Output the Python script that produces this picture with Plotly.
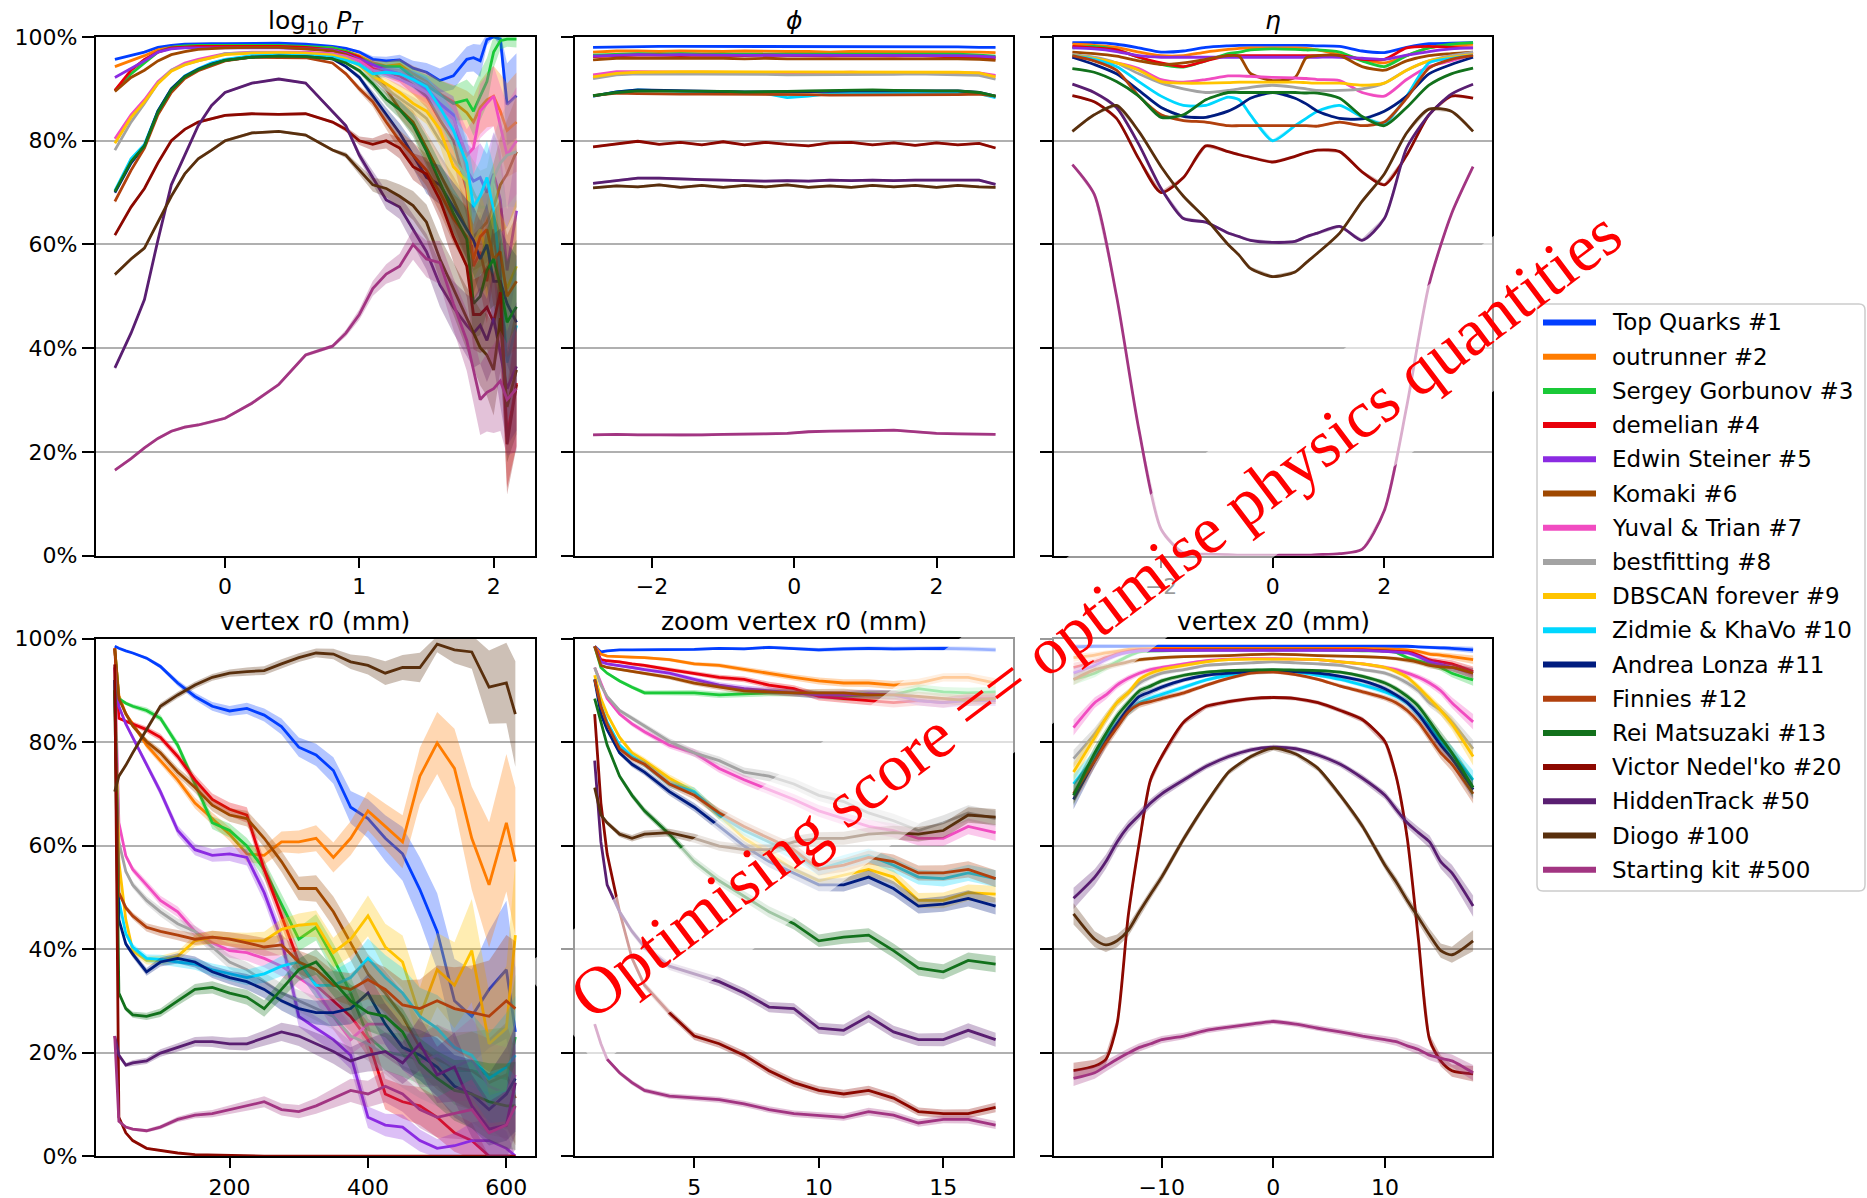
import numpy as np
import plotly.graph_objects as go

W, H = 1867, 1198

teams = ["Top Quarks #1", "outrunner #2", "Sergey Gorbunov #3", "demelian #4",
         "Edwin Steiner #5", "Komaki #6", "Yuval & Trian #7", "bestfitting #8",
         "DBSCAN forever #9", "Zidmie & KhaVo #10", "Andrea Lonza #11", "Finnies #12",
         "Rei Matsuzaki #13", "Victor Nedel'ko #20", "HiddenTrack #50", "Diogo #100",
         "Starting kit #500"]
colors = ["#023EFF", "#FF7C00", "#1AC938", "#E8000B", "#8B2BE2", "#9F4800", "#F14CC1",
          "#A3A3A3", "#FFC400", "#00D7FF", "#001C7F", "#B1400D", "#12711C", "#8C0800",
          "#591E71", "#592F0D", "#A23582"]

# ---------------- efficiency vs log10 pT (%) ----------------
pt_x = [-0.82, -0.7, -0.6, -0.5, -0.4, -0.3, -0.2, -0.1, 0.0, 0.2,
        0.4, 0.6, 0.8, 0.9, 1.0, 1.1, 1.2, 1.3, 1.4, 1.5,
        1.6, 1.7, 1.8, 1.85, 1.9, 1.95, 2.0, 2.05, 2.1, 2.17]
pt_n = [20000, 20000, 20000, 20000, 20000, 20000, 20000, 20000, 20000, 20000,
        20000, 20000, 20000, 6000, 2500, 1200, 700, 420, 280, 200,
        140, 100, 70, 55, 45, 38, 30, 24, 18, 15]
pt_r1 = [95.7, 96.4, 97.1, 98.0, 98.4, 98.6, 98.7, 98.7, 98.7, 98.8, 98.8, 98.6, 98.2, 97.8, 97.1, 95.7, 95.4, 95.6, 94.0, 93.2, 91.6, 92.5, 95.7, 96.0, 95.4, 99.5, 100.0, 99.6, 87.0, 88.7]
pt_r2 = [94.3, 95.4, 96.4, 97.5, 98.0, 98.2, 98.2, 98.2, 98.2, 98.2, 98.2, 98.0, 97.9, 97.3, 96.4, 95.0, 94.4, 94.7, 92.9, 91.4, 89.0, 87.5, 85.4, 83.6, 86.4, 87.9, 88.6, 85.7, 82.0, 83.6]
pt_r3 = [89.7, 92.9, 95.0, 97.1, 98.0, 98.3, 98.4, 98.4, 98.4, 98.4, 98.4, 98.2, 97.9, 97.3, 96.1, 94.7, 94.3, 94.3, 92.2, 90.7, 89.0, 87.2, 87.9, 85.7, 88.6, 91.4, 97.1, 99.3, 99.6, 99.6]
pt_r4 = [89.7, 93.6, 95.7, 97.1, 97.9, 98.1, 98.2, 98.2, 98.2, 98.2, 98.2, 98.0, 97.5, 97.0, 96.1, 93.9, 93.2, 92.5, 90.7, 88.6, 84.0, 80.0, 70.5, 55.8, 58.6, 52.9, 62.9, 50.8, 23.0, 33.3]
pt_r5 = [92.2, 93.9, 95.4, 97.1, 97.7, 97.9, 97.9, 97.9, 97.9, 97.9, 97.9, 97.7, 97.5, 96.8, 95.7, 94.7, 93.6, 92.9, 91.8, 90.0, 87.2, 85.0, 74.3, 72.2, 72.9, 70.0, 73.6, 68.6, 55.0, 66.5]
pt_r6 = [89.5, 92.2, 93.6, 95.4, 96.6, 97.2, 97.6, 97.8, 97.9, 98.0, 98.0, 97.7, 97.3, 96.6, 95.4, 93.6, 90.0, 86.1, 83.6, 78.6, 73.6, 68.6, 62.9, 61.5, 62.9, 64.3, 67.2, 71.5, 73.6, 77.9]
pt_r7 = [80.4, 85.0, 87.9, 91.4, 93.6, 95.0, 95.7, 96.3, 96.8, 97.1, 97.1, 97.1, 96.8, 96.3, 95.4, 93.6, 92.9, 91.8, 90.7, 89.3, 86.4, 84.3, 77.2, 78.6, 85.7, 87.2, 88.6, 82.9, 77.2, 80.0]
pt_r8 = [78.2, 83.6, 87.2, 91.1, 93.6, 94.7, 95.4, 96.0, 96.8, 97.0, 97.0, 96.9, 96.6, 96.0, 94.7, 92.2, 90.0, 88.2, 86.4, 84.3, 80.0, 76.5, 72.9, 70.0, 67.2, 67.2, 72.9, 75.7, 77.2, 77.9]
pt_r9 = [79.5, 84.5, 87.5, 91.0, 93.4, 94.6, 95.4, 96.0, 96.6, 96.9, 97.0, 96.9, 96.5, 95.8, 94.5, 92.5, 91.0, 89.3, 87.2, 85.7, 82.2, 75.0, 72.2, 60.0, 62.9, 57.9, 67.2, 55.8, 51.5, 55.8]
pt_r10 = [70.4, 76.5, 79.3, 85.7, 90.0, 92.5, 93.9, 95.0, 95.7, 96.4, 96.5, 96.4, 96.1, 95.5, 94.7, 92.9, 93.2, 92.9, 91.8, 90.4, 86.4, 82.0, 75.7, 67.2, 69.3, 72.9, 66.5, 54.4, 37.2, 44.4]
pt_r11 = [70.0, 75.7, 79.0, 85.7, 90.0, 92.4, 93.8, 94.8, 95.5, 96.1, 96.3, 96.2, 95.8, 94.3, 92.2, 88.6, 85.0, 81.5, 77.2, 72.9, 71.5, 67.2, 62.9, 60.8, 57.2, 60.0, 52.9, 52.9, 48.6, 45.0]
pt_r12 = [68.3, 74.3, 78.6, 85.0, 89.3, 92.0, 93.5, 94.5, 95.4, 96.1, 96.1, 96.0, 95.0, 92.9, 90.0, 87.5, 83.6, 80.0, 77.2, 74.3, 70.0, 65.0, 61.5, 57.2, 61.5, 62.9, 57.2, 58.6, 50.0, 52.9]
pt_r13 = [70.2, 76.0, 79.0, 85.5, 89.8, 92.3, 93.7, 94.7, 95.5, 96.1, 96.3, 96.2, 95.8, 95.0, 93.5, 91.0, 88.0, 86.0, 83.0, 78.0, 72.0, 66.0, 61.0, 48.6, 50.0, 55.0, 57.2, 52.0, 45.0, 48.0]
pt_r20 = [61.8, 67.2, 70.8, 75.7, 80.0, 82.2, 83.6, 84.3, 84.9, 85.2, 85.1, 85.2, 83.6, 82.2, 80.0, 79.3, 80.0, 78.6, 75.0, 73.6, 68.6, 61.5, 55.8, 46.5, 46.5, 47.9, 45.0, 50.8, 21.5, 33.0]
pt_r50 = [36.2, 42.9, 49.4, 60.8, 71.5, 77.2, 82.9, 86.8, 89.3, 91.1, 91.9, 91.1, 85.7, 82.9, 77.2, 72.9, 68.6, 67.2, 62.9, 58.6, 52.2, 47.9, 44.4, 42.9, 44.4, 41.5, 45.8, 38.7, 32.2, 36.5]
pt_r100 = [54.2, 57.2, 59.3, 64.3, 69.3, 73.6, 76.5, 78.2, 80.0, 81.5, 81.8, 81.1, 78.2, 77.2, 74.3, 71.5, 70.8, 69.3, 67.5, 64.3, 57.2, 51.5, 45.8, 42.9, 40.1, 38.7, 35.8, 45.8, 28.7, 35.8]
pt_r500 = [16.5, 18.7, 20.8, 22.6, 24.0, 24.8, 25.2, 25.8, 26.5, 29.4, 33.0, 38.7, 40.4, 42.9, 46.5, 51.5, 54.3, 55.8, 60.0, 57.2, 56.5, 48.6, 41.5, 35.8, 30.1, 31.5, 32.2, 33.7, 30.1, 32.2]

# ---------------- efficiency vs phi (%) ----------------
phi_x = [-2.83, -2.5, -2.2, -1.9, -1.6, -1.3, -1.0, -0.7, -0.4, -0.1,
         0.2, 0.5, 0.8, 1.1, 1.4, 1.7, 2.0, 2.3, 2.6, 2.83]
phi_n = [30000] * 20
phi_r1 = [98.0, 98.1, 98.1, 98.2, 98.2, 98.2, 98.1, 98.2, 98.1, 98.2, 98.1, 98.2, 98.1, 98.1, 98.2, 98.1, 98.1, 98.1, 98.0, 98.0]
phi_r2 = [97.1, 97.3, 97.3, 97.2, 97.3, 97.2, 97.2, 97.3, 97.2, 97.2, 97.2, 97.1, 97.2, 97.2, 97.1, 97.2, 97.2, 97.1, 97.1, 97.0]
phi_r3 = [96.5, 96.7, 96.8, 96.7, 96.8, 96.7, 96.7, 96.6, 96.7, 96.6, 96.6, 96.7, 96.7, 96.6, 96.7, 96.6, 96.6, 96.7, 96.5, 96.3]
phi_r4 = [96.2, 96.4, 96.5, 96.5, 96.4, 96.5, 96.4, 96.4, 96.5, 96.4, 96.4, 96.3, 96.4, 96.3, 96.3, 96.4, 96.3, 96.2, 96.1, 95.9]
phi_r5 = [96.3, 96.5, 96.6, 96.5, 96.6, 96.5, 96.5, 96.4, 96.5, 96.5, 96.4, 96.5, 96.4, 96.5, 96.4, 96.5, 96.4, 96.4, 96.3, 96.1]
phi_r6 = [95.6, 95.9, 95.9, 95.9, 96.0, 95.9, 95.9, 95.8, 95.9, 95.8, 95.8, 95.8, 95.9, 95.8, 95.8, 95.8, 95.9, 95.8, 95.7, 95.5]
phi_r7 = [92.7, 93.3, 93.3, 93.2, 93.2, 93.2, 93.2, 93.1, 93.2, 93.1, 93.0, 93.1, 93.2, 93.1, 93.1, 93.1, 93.2, 93.1, 93.1, 92.6]
phi_r8 = [92.0, 92.7, 92.9, 92.9, 92.9, 92.8, 92.9, 92.8, 92.8, 92.7, 92.7, 92.8, 92.8, 92.8, 92.8, 92.9, 92.8, 92.8, 92.6, 91.9]
phi_r9 = [92.3, 93.0, 93.2, 93.3, 93.3, 93.3, 93.3, 93.2, 93.3, 93.2, 93.2, 93.2, 93.3, 93.3, 93.2, 93.2, 93.3, 93.2, 93.1, 92.3]
phi_r10 = [88.6, 89.4, 89.8, 89.6, 89.5, 89.5, 89.4, 89.3, 89.1, 88.3, 88.6, 89.1, 89.2, 89.3, 89.2, 89.2, 89.3, 89.3, 89.1, 88.3]
phi_r11 = [88.6, 89.4, 89.8, 89.7, 89.6, 89.6, 89.5, 89.4, 89.4, 89.4, 89.4, 89.5, 89.6, 89.6, 89.5, 89.6, 89.6, 89.6, 89.3, 88.6]
phi_r12 = [88.7, 89.2, 89.1, 89.0, 89.0, 89.0, 89.0, 89.0, 88.9, 88.9, 88.9, 88.8, 88.8, 88.9, 88.9, 88.9, 88.9, 88.9, 89.0, 88.6]
phi_r13 = [88.7, 89.3, 89.6, 89.6, 89.5, 89.5, 89.5, 89.4, 89.4, 89.5, 89.6, 89.7, 89.8, 89.8, 89.7, 89.6, 89.6, 89.6, 89.3, 88.6]
phi_r20 = [78.8, 79.4, 79.9, 79.3, 79.7, 79.2, 79.8, 79.2, 79.7, 79.3, 79.0, 79.6, 79.7, 79.2, 79.6, 79.1, 79.6, 79.2, 79.5, 78.6]
phi_r50 = [71.8, 72.4, 72.8, 72.8, 72.6, 72.5, 72.4, 72.3, 72.2, 72.3, 72.2, 72.4, 72.3, 72.4, 72.3, 72.4, 72.4, 72.5, 72.4, 71.6]
phi_r100 = [70.9, 71.3, 71.1, 71.5, 71.0, 71.4, 71.0, 71.4, 71.1, 71.5, 71.0, 71.3, 71.0, 71.4, 71.1, 71.4, 71.0, 71.4, 71.1, 71.0]
phi_r500 = [23.3, 23.4, 23.3, 23.3, 23.2, 23.3, 23.4, 23.4, 23.5, 23.6, 23.9, 24.0, 24.0, 24.1, 24.2, 23.9, 23.6, 23.5, 23.5, 23.4]

# ---------------- efficiency vs eta (%) ----------------
eta_x = [-3.59, -3.2, -2.8, -2.4, -2.0, -1.6, -1.2, -0.8, -0.6, -0.4, 0.0,
         0.4, 0.6, 0.8, 1.2, 1.6, 2.0, 2.4, 2.8, 3.2, 3.59]
eta_n = [30000] * 21
eta_r1 = [98.9, 98.9, 98.6, 97.9, 97.1, 97.3, 98.0, 98.3, 98.4, 98.4, 98.4, 98.4, 98.4, 98.3, 98.2, 97.3, 97.0, 98.0, 98.7, 98.8, 98.9]
eta_r2 = [98.6, 98.4, 98.0, 97.1, 96.4, 96.4, 97.1, 97.6, 97.8, 97.9, 97.9, 97.9, 97.8, 97.5, 96.6, 95.7, 95.0, 96.4, 97.9, 98.4, 98.6]
eta_r3 = [97.9, 98.2, 97.5, 96.1, 94.7, 94.2, 95.4, 96.8, 97.1, 97.5, 97.7, 97.6, 97.5, 97.5, 97.1, 95.4, 94.3, 96.4, 97.9, 98.6, 98.9]
eta_r4 = [98.2, 97.9, 97.5, 96.1, 95.0, 94.3, 95.4, 96.4, 96.4, 96.4, 96.4, 96.4, 96.4, 96.4, 96.4, 95.7, 95.7, 97.9, 98.2, 98.0, 97.9]
eta_r5 = [97.9, 97.7, 97.2, 96.4, 96.1, 96.1, 96.1, 96.1, 96.1, 96.1, 96.1, 96.1, 96.1, 96.1, 96.1, 95.9, 95.7, 96.5, 97.2, 97.7, 97.9]
eta_r6 = [97.1, 96.8, 96.3, 95.4, 94.7, 95.0, 95.7, 96.4, 96.3, 93.0, 91.6, 92.2, 96.0, 96.4, 96.4, 94.3, 93.6, 95.4, 96.4, 96.8, 97.1]
eta_r7 = [96.1, 95.7, 95.0, 93.9, 91.8, 91.3, 91.8, 92.5, 92.5, 92.4, 92.2, 92.1, 92.0, 91.8, 91.6, 89.3, 88.6, 91.8, 94.3, 95.4, 96.6]
eta_r8 = [96.6, 96.1, 95.0, 92.9, 91.1, 90.0, 89.3, 89.7, 90.0, 90.3, 90.7, 90.3, 90.0, 89.7, 89.7, 90.0, 91.1, 93.6, 95.4, 96.4, 97.1]
eta_r9 = [96.4, 95.9, 95.0, 93.6, 91.4, 91.1, 91.1, 91.2, 91.3, 91.3, 91.3, 91.3, 91.2, 91.1, 91.1, 90.7, 91.1, 93.6, 95.4, 96.1, 96.6]
eta_r10 = [96.4, 95.7, 94.3, 91.4, 88.6, 86.8, 86.8, 88.4, 87.9, 85.0, 80.0, 82.9, 84.3, 85.7, 86.8, 84.6, 83.3, 88.6, 95.0, 95.9, 96.4]
eta_r11 = [96.1, 94.7, 92.9, 89.7, 86.4, 84.7, 84.5, 85.7, 86.8, 88.2, 89.3, 88.2, 87.1, 85.7, 84.3, 84.2, 85.7, 88.6, 92.9, 94.7, 96.1]
eta_r12 = [96.4, 95.4, 93.6, 88.6, 85.0, 83.9, 83.6, 82.9, 82.9, 82.9, 82.9, 82.9, 82.9, 82.8, 83.6, 82.9, 83.6, 88.2, 94.0, 95.7, 96.4]
eta_r13 = [93.9, 93.2, 91.4, 88.6, 84.5, 85.0, 87.9, 89.3, 89.3, 89.3, 89.3, 89.3, 89.2, 89.2, 88.2, 84.7, 82.9, 86.4, 90.7, 92.9, 94.0]
eta_r20 = [88.7, 87.5, 84.3, 76.5, 70.0, 72.9, 79.0, 77.9, 77.3, 76.8, 75.9, 77.0, 77.7, 78.2, 77.9, 74.0, 71.5, 77.2, 85.0, 88.6, 88.2]
eta_r50 = [90.9, 89.3, 86.4, 79.3, 70.8, 65.0, 64.3, 62.2, 61.5, 60.8, 60.4, 60.6, 61.5, 62.2, 63.5, 60.8, 65.0, 78.6, 85.0, 89.0, 90.9]
eta_r100 = [81.8, 85.0, 86.8, 81.8, 75.0, 69.3, 65.0, 60.0, 57.9, 55.4, 53.8, 54.7, 56.5, 58.3, 62.2, 68.3, 73.6, 81.5, 86.1, 85.7, 81.8]
eta_r500 = [75.4, 69.7, 50.1, 24.4, 5.1, 0.5, 0.3, 0.2, 0.1, 0.1, 0.1, 0.1, 0.1, 0.2, 0.4, 1.2, 8.7, 28.7, 52.2, 65.8, 75.0]

# ---------------- efficiency vs vertex r0 (%) ----------------
r0_x = [34, 40, 50, 60, 80, 100, 125, 150, 175, 200, 225, 250, 275, 300,
        325, 350, 375, 400, 425, 450, 475, 500, 525, 550, 575, 600, 613]
r0_n = [50000, 20000, 10000, 6000, 4000, 3000, 2500, 2000, 1600, 1300, 1000, 800, 600, 480,
        380, 290, 220, 160, 120, 90, 65, 45, 32, 24, 17, 13, 12]
r0_r1 = [98.5, 98.1, 97.6, 97.2, 96.2, 94.6, 91.4, 88.8, 86.9, 86.0, 86.5, 85.2, 83.0, 79.0, 77.5, 74.5, 67.4, 65.2, 61.4, 58.4, 51.5, 43.4, 30.0, 27.0, 32.2, 36.0, 24.0]
r0_r2 = [98.1, 89.0, 85.4, 83.5, 79.4, 76.4, 72.7, 68.2, 65.2, 62.2, 58.4, 58.1, 60.7, 60.7, 61.4, 57.7, 61.4, 66.7, 63.7, 60.7, 73.4, 79.8, 74.9, 61.4, 52.4, 64.4, 56.9]
r0_r3 = [98.0, 88.4, 87.5, 86.9, 86.1, 84.6, 79.4, 71.9, 64.4, 62.9, 59.9, 55.4, 48.7, 41.9, 44.2, 38.2, 31.5, 23.2, 20.2, 19.5, 18.7, 19.5, 16.5, 16.5, 15.7, 15.0, 23.0]
r0_r4 = [98.1, 84.6, 84.0, 83.5, 82.4, 80.9, 77.2, 72.7, 68.9, 67.0, 65.9, 55.4, 46.4, 37.5, 33.0, 30.0, 27.0, 22.5, 12.0, 10.5, 9.7, 7.5, 4.5, 3.0, 0.0, 0.0, 0.0]
r0_r5 = [94.4, 86.9, 83.5, 80.9, 75.7, 70.4, 62.9, 59.2, 58.1, 58.4, 57.7, 50.9, 41.9, 27.0, 24.7, 22.5, 19.5, 7.5, 6.0, 5.6, 3.0, 1.5, 2.0, 3.0, 3.0, 1.5, 0.0]
r0_r6 = [98.1, 88.4, 85.5, 83.1, 80.1, 77.9, 74.2, 71.2, 67.8, 65.9, 65.2, 61.4, 56.9, 51.7, 51.7, 47.2, 41.2, 35.2, 31.5, 27.0, 21.0, 18.7, 17.2, 16.5, 14.2, 15.7, 11.2]
r0_r7 = [94.4, 64.4, 58.0, 55.4, 52.4, 49.4, 47.2, 43.4, 41.2, 39.7, 39.3, 38.2, 36.7, 34.5, 32.2, 27.0, 22.5, 25.5, 25.5, 21.0, 18.0, 19.5, 17.2, 18.7, 13.5, 12.0, 15.7]
r0_r8 = [90.0, 60.7, 55.0, 52.4, 49.4, 47.2, 44.9, 43.4, 40.4, 37.5, 36.0, 33.7, 31.5, 30.0, 28.5, 27.0, 23.2, 21.7, 19.5, 17.2, 15.7, 15.0, 14.2, 13.5, 12.0, 12.7, 12.0]
r0_r9 = [92.0, 56.9, 45.7, 39.7, 37.8, 37.8, 38.6, 41.6, 42.3, 41.9, 41.6, 41.6, 43.8, 44.6, 44.9, 39.3, 41.9, 46.4, 40.4, 37.5, 27.0, 36.0, 33.0, 39.7, 21.7, 24.7, 42.7]
r0_r10 = [92.0, 49.4, 43.0, 40.4, 38.2, 38.0, 37.5, 37.1, 36.0, 35.2, 34.5, 35.2, 36.7, 37.5, 33.0, 33.0, 34.5, 38.2, 34.5, 31.5, 27.0, 24.7, 21.0, 19.5, 15.0, 17.2, 19.5]
r0_r11 = [92.0, 45.7, 41.0, 39.0, 35.6, 37.5, 38.2, 37.5, 35.6, 34.5, 33.7, 32.2, 30.0, 28.5, 27.7, 27.7, 28.5, 31.5, 25.5, 21.0, 19.5, 17.2, 13.5, 12.0, 9.0, 12.0, 15.0]
r0_r12 = [90.0, 50.9, 48.0, 46.4, 44.2, 43.4, 42.7, 41.9, 42.3, 41.9, 41.2, 40.4, 40.8, 37.5, 36.0, 33.0, 32.2, 34.1, 32.2, 29.2, 28.5, 30.0, 28.5, 27.7, 27.0, 30.0, 28.5]
r0_r13 = [90.0, 31.5, 28.5, 27.3, 27.0, 27.7, 30.0, 32.2, 32.6, 31.5, 30.7, 28.5, 32.2, 36.0, 37.5, 33.7, 30.0, 27.7, 27.0, 24.0, 18.0, 15.0, 12.7, 12.0, 10.5, 9.7, 9.7]
r0_r20 = [95.0, 7.5, 4.5, 3.0, 1.5, 1.1, 0.6, 0.3, 0.2, 0.1, 0.1, 0.0, 0.0, 0.0, 0.0, 0.0, 0.0, 0.0, 0.0, 0.0, 0.0, 0.0, 0.0, 0.0, 0.0, 0.0, 0.0]
r0_r50 = [23.2, 19.5, 17.6, 18.0, 18.4, 19.9, 21.0, 22.1, 22.1, 21.7, 21.7, 22.8, 24.0, 23.2, 21.7, 20.2, 18.4, 19.5, 20.2, 18.0, 21.7, 15.7, 17.2, 9.7, 5.2, 6.0, 14.2]
r0_r100 = [70.4, 73.4, 75.5, 77.9, 82.4, 86.9, 89.1, 91.0, 92.5, 93.3, 93.6, 93.8, 95.1, 96.3, 97.2, 97.0, 95.5, 94.8, 93.3, 94.4, 94.4, 98.9, 97.8, 97.4, 90.6, 91.4, 85.4]
r0_r500 = [23.2, 6.7, 5.6, 5.2, 4.9, 5.6, 7.1, 7.9, 8.2, 9.0, 9.7, 10.5, 9.0, 8.6, 9.7, 11.2, 12.7, 12.0, 13.5, 12.0, 9.0, 7.5, 8.2, 9.0, 4.5, 6.0, 9.7]

# ---------------- efficiency vs vertex r0, zoomed (%) ----------------
zr_x = [1.0, 1.25, 1.5, 2.0, 2.5, 3.0, 4.0, 5.0, 6.0, 7.0,
        8.0, 9.0, 10.0, 11.0, 12.0, 13.0, 14.0, 15.0, 16.0, 17.1]
zr_n = [40000, 20000, 12000, 8000, 6000, 5000, 4000, 3200, 2800, 2400,
        2100, 1900, 1700, 1500, 1400, 1300, 1200, 1100, 1000, 950]
zr_r1 = [98.5, 97.4, 97.6, 97.8, 97.8, 97.8, 97.8, 97.9, 98.1, 98.0, 98.3, 98.1, 97.8, 98.0, 98.1, 98.0, 98.1, 98.1, 98.0, 97.8]
zr_r2 = [98.5, 97.0, 96.6, 96.5, 96.3, 96.3, 95.9, 95.1, 94.8, 94.0, 93.3, 92.5, 91.8, 91.4, 91.4, 91.0, 91.4, 92.5, 92.5, 91.4]
zr_r3 = [98.5, 94.4, 93.3, 91.8, 90.6, 89.5, 89.5, 89.5, 89.1, 89.3, 89.5, 89.5, 89.1, 88.8, 89.1, 89.1, 90.3, 89.7, 89.5, 89.7]
zr_r4 = [98.5, 95.9, 95.7, 95.5, 95.1, 94.8, 94.0, 93.3, 92.5, 92.1, 91.0, 90.3, 88.8, 88.4, 88.0, 87.6, 88.0, 87.6, 88.4, 88.4]
zr_r5 = [98.5, 95.5, 95.1, 94.8, 94.4, 94.0, 93.3, 92.1, 91.0, 90.3, 89.9, 89.5, 89.1, 89.1, 89.3, 89.1, 88.0, 87.6, 88.0, 88.0]
zr_r6 = [98.5, 94.8, 94.4, 94.0, 93.6, 93.3, 92.5, 91.4, 90.6, 89.9, 89.7, 89.5, 89.5, 89.5, 89.1, 89.1, 88.8, 88.4, 88.0, 88.4]
zr_r7 = [94.4, 91.4, 88.4, 85.4, 83.5, 82.0, 79.4, 77.9, 74.9, 72.7, 70.8, 68.9, 66.7, 65.2, 63.7, 62.9, 61.4, 61.4, 63.7, 62.5]
zr_r8 = [94.4, 91.0, 88.8, 86.1, 84.6, 83.1, 80.1, 77.9, 76.4, 74.2, 73.4, 71.9, 69.7, 68.5, 66.3, 64.8, 62.9, 64.4, 66.3, 65.2]
zr_r9 = [92.9, 88.4, 85.4, 80.9, 77.9, 76.4, 73.0, 70.4, 65.9, 61.4, 58.4, 55.4, 53.2, 54.3, 55.4, 53.9, 49.4, 49.4, 50.9, 50.6]
zr_r10 = [92.1, 86.9, 83.9, 79.4, 77.2, 75.7, 71.9, 70.4, 65.9, 62.9, 60.7, 58.4, 55.4, 56.9, 58.1, 56.2, 53.9, 53.6, 54.7, 53.6]
zr_r11 = [92.1, 85.4, 82.4, 77.9, 75.7, 74.2, 70.4, 67.4, 63.7, 59.9, 56.9, 54.7, 52.4, 52.4, 53.9, 51.7, 48.3, 48.7, 49.8, 48.3]
zr_r12 = [92.1, 86.9, 83.5, 78.7, 76.8, 75.7, 71.9, 69.7, 66.3, 63.7, 61.4, 59.2, 55.4, 56.2, 57.7, 56.9, 54.7, 54.7, 55.4, 53.6]
zr_r13 = [88.4, 83.9, 79.4, 73.4, 69.7, 66.7, 62.2, 56.9, 53.2, 50.2, 47.2, 44.9, 41.6, 42.3, 42.7, 39.7, 36.3, 35.6, 37.8, 37.1]
zr_r20 = [85.4, 68.2, 58.4, 47.2, 38.2, 33.0, 27.7, 23.2, 21.7, 19.5, 16.5, 14.2, 12.7, 12.0, 12.7, 11.2, 8.6, 8.2, 8.2, 9.4]
zr_r50 = [76.4, 60.7, 52.4, 47.2, 43.4, 40.4, 36.7, 35.2, 33.7, 31.5, 28.8, 28.5, 24.7, 24.3, 27.0, 24.0, 22.5, 22.5, 24.3, 22.5]
zr_r100 = [71.2, 65.9, 64.4, 62.2, 61.4, 62.2, 62.5, 61.4, 59.9, 59.2, 59.2, 60.7, 61.4, 61.4, 62.2, 62.5, 62.2, 62.9, 65.9, 65.5]
zr_r500 = [25.5, 21.7, 18.7, 16.1, 14.2, 12.7, 11.6, 11.2, 10.9, 10.1, 9.0, 8.2, 7.9, 7.5, 8.6, 7.9, 6.4, 7.1, 7.1, 6.0]

# ---------------- efficiency vs vertex z0 (%) ----------------
z0_x = [-17.9, -16, -15, -14, -13, -12, -11, -10, -8, -6, -4, -2, 0,
        2, 4, 6, 8, 10, 11, 12, 13, 14, 15, 16, 17.9]
z0_n = [600, 1000, 1300, 1600, 2000, 2500, 3000, 3500, 4500, 5500, 6500, 7500, 8000,
        7500, 6500, 5500, 4500, 3500, 3000, 2500, 2000, 1600, 1300, 1000, 600]
z0_r1 = [98.4, 98.5, 98.5, 98.5, 98.5, 98.5, 98.5, 98.5, 98.5, 98.5, 98.5, 98.5, 98.5, 98.5, 98.5, 98.5, 98.5, 98.5, 98.5, 98.5, 98.4, 98.3, 98.2, 98.1, 97.8]
z0_r2 = [96.3, 96.8, 97.2, 97.5, 97.9, 98.0, 98.1, 98.1, 98.1, 98.1, 98.1, 98.1, 98.1, 98.1, 98.1, 98.1, 98.1, 98.0, 97.9, 97.8, 97.5, 97.0, 96.8, 96.5, 95.9]
z0_r3 = [92.1, 93.3, 94.4, 95.5, 96.6, 97.4, 97.6, 97.6, 97.7, 97.8, 97.8, 97.8, 97.8, 97.8, 97.8, 97.7, 97.6, 97.6, 97.3, 96.3, 95.7, 95.1, 94.4, 93.3, 92.0]
z0_r4 = [94.4, 95.5, 96.3, 97.0, 97.5, 97.8, 97.8, 97.8, 97.8, 97.8, 97.8, 97.8, 97.8, 97.8, 97.8, 97.8, 97.8, 97.6, 97.5, 97.4, 96.8, 95.9, 95.5, 95.1, 93.6]
z0_r5 = [93.3, 94.8, 95.9, 96.8, 97.3, 97.6, 97.7, 97.7, 97.7, 97.7, 97.7, 97.7, 97.7, 97.7, 97.7, 97.7, 97.7, 97.5, 97.4, 97.2, 96.5, 95.5, 95.0, 94.4, 93.3]
z0_r6 = [92.1, 94.0, 94.5, 95.0, 95.5, 95.9, 96.1, 96.3, 96.5, 96.6, 96.7, 96.9, 97.0, 96.9, 96.7, 96.6, 96.5, 96.3, 96.1, 95.8, 95.4, 94.8, 94.5, 94.4, 93.3]
z0_r7 = [82.8, 87.6, 89.1, 91.0, 92.3, 93.3, 94.0, 94.4, 95.1, 95.7, 96.0, 96.1, 96.1, 96.0, 95.9, 95.5, 95.1, 94.4, 94.0, 93.3, 92.5, 91.4, 89.9, 87.6, 83.9]
z0_r8 = [76.8, 81.6, 84.6, 87.6, 89.5, 91.4, 92.5, 93.3, 94.0, 94.8, 95.1, 95.3, 95.5, 95.3, 95.1, 94.8, 94.0, 93.3, 92.5, 91.4, 89.9, 87.6, 86.1, 83.9, 78.7]
z0_r9 = [74.2, 80.9, 84.6, 87.6, 89.5, 92.1, 93.3, 94.0, 94.8, 95.5, 95.9, 96.0, 96.0, 96.0, 95.9, 95.5, 95.1, 94.4, 93.6, 92.5, 90.6, 88.4, 86.1, 83.5, 77.2]
z0_r10 = [71.9, 77.2, 80.9, 83.5, 85.8, 87.6, 88.5, 89.2, 90.6, 92.0, 92.9, 93.4, 93.6, 93.5, 92.9, 92.1, 91.0, 89.7, 88.8, 87.6, 85.4, 83.1, 80.1, 77.9, 72.7]
z0_r11 = [68.9, 76.4, 80.1, 83.5, 86.5, 88.8, 89.7, 90.6, 92.0, 92.9, 93.3, 93.6, 93.8, 93.6, 93.3, 92.7, 91.8, 90.3, 89.1, 87.6, 85.4, 82.4, 79.4, 76.8, 70.8]
z0_r12 = [70.0, 76.4, 79.8, 82.8, 85.8, 87.3, 87.8, 88.4, 89.5, 91.0, 92.3, 93.3, 93.5, 93.0, 92.1, 90.8, 89.7, 88.5, 87.6, 86.1, 83.9, 80.9, 77.9, 75.7, 70.0]
z0_r13 = [69.7, 77.9, 81.6, 85.0, 87.6, 89.9, 90.8, 91.8, 92.9, 93.5, 93.8, 93.9, 94.0, 93.9, 93.8, 93.5, 92.7, 91.4, 90.3, 88.8, 86.9, 84.0, 80.9, 77.9, 71.2]
z0_r20 = [16.5, 17.4, 18.7, 25.5, 46.4, 60.7, 72.7, 77.2, 83.9, 86.9, 87.8, 88.4, 88.6, 88.4, 87.6, 86.1, 84.3, 80.1, 73.4, 61.4, 41.9, 22.5, 18.4, 16.5, 15.9]
z0_r50 = [49.8, 53.9, 56.9, 60.7, 63.7, 65.9, 68.2, 70.0, 72.7, 75.3, 77.2, 78.5, 79.0, 78.7, 77.5, 75.7, 73.0, 69.7, 67.0, 64.4, 62.5, 60.7, 56.9, 54.7, 48.3]
z0_r100 = [46.8, 41.9, 40.8, 41.6, 43.6, 47.2, 50.6, 53.9, 61.4, 68.2, 74.2, 77.2, 78.8, 77.7, 74.9, 69.7, 63.7, 56.2, 53.0, 49.4, 46.1, 42.7, 39.7, 38.9, 41.6]
z0_r500 = [15.0, 16.1, 17.4, 18.7, 19.9, 21.0, 21.7, 22.5, 23.2, 24.3, 24.9, 25.5, 26.0, 25.5, 24.7, 24.0, 23.2, 22.5, 22.1, 21.3, 20.6, 19.5, 18.9, 18.4, 16.1]

pct_ticks = [0, 20, 40, 60, 80, 100]
pct_labels = ["0%", "20%", "40%", "60%", "80%", "100%"]

panels = [
    dict(title="log<sub>10</sub> <i>P</i><sub><i>T</i></sub>", title_shift=-3, x=pt_x, n=pt_n,
         series=[pt_r1, pt_r2, pt_r3, pt_r4, pt_r5, pt_r6, pt_r7, pt_r8, pt_r9, pt_r10,
                 pt_r11, pt_r12, pt_r13, pt_r20, pt_r50, pt_r100, pt_r500],
         xrange=[-0.963, 2.305], tickvals=[0, 1, 2], ticktext=["0", "1", "2"], spline=False),
    dict(title="<i>ϕ</i>", title_shift=0, x=phi_x, n=phi_n,
         series=[phi_r1, phi_r2, phi_r3, phi_r4, phi_r5, phi_r6, phi_r7, phi_r8, phi_r9, phi_r10,
                 phi_r11, phi_r12, phi_r13, phi_r20, phi_r50, phi_r100, phi_r500],
         xrange=[-3.084, 3.080], tickvals=[-2, 0, 2], ticktext=["\u22122", "0", "2"], spline=False),
    dict(title="<i>η</i>", title_shift=0, x=eta_x, n=eta_n,
         series=[eta_r1, eta_r2, eta_r3, eta_r4, eta_r5, eta_r6, eta_r7, eta_r8, eta_r9, eta_r10,
                 eta_r11, eta_r12, eta_r13, eta_r20, eta_r50, eta_r100, eta_r500],
         xrange=[-3.92, 3.935], tickvals=[-2, 0, 2], ticktext=["\u22122", "0", "2"], spline=True),
    dict(title="vertex r0 (mm)", title_shift=1, x=r0_x, n=r0_n,
         series=[r0_r1, r0_r2, r0_r3, r0_r4, r0_r5, r0_r6, r0_r7, r0_r8, r0_r9, r0_r10,
                 r0_r11, r0_r12, r0_r13, r0_r20, r0_r50, r0_r100, r0_r500],
         xrange=[6.5, 640.8], tickvals=[200, 400, 600], ticktext=["200", "400", "600"], spline=False),
    dict(title="zoom vertex r0 (mm)", title_shift=1, x=zr_x, n=zr_n,
         series=[zr_r1, zr_r2, zr_r3, zr_r4, zr_r5, zr_r6, zr_r7, zr_r8, zr_r9, zr_r10,
                 zr_r11, zr_r12, zr_r13, zr_r20, zr_r50, zr_r100, zr_r500],
         xrange=[0.21, 17.81], tickvals=[5, 10, 15], ticktext=["5", "10", "15"], spline=False),
    dict(title="vertex z0 (mm)", title_shift=1, x=z0_x, n=z0_n,
         series=[z0_r1, z0_r2, z0_r3, z0_r4, z0_r5, z0_r6, z0_r7, z0_r8, z0_r9, z0_r10,
                 z0_r11, z0_r12, z0_r13, z0_r20, z0_r50, z0_r100, z0_r500],
         xrange=[-19.65, 19.62], tickvals=[-10, 0, 10], ticktext=["\u221210", "0", "10"], spline=True),
]

# subplot frames in pixels (left, right) / (top, bottom)
col_px = [(95.7, 534.6), (575.0, 1013.3), (1054.0, 1492.3)]
row_px = [(37.0, 555.7), (638.5, 1156.1)]


def px(x):
    return x / W


def py(y):
    return 1 - y / H


def rgba(hex_color, a):
    h = hex_color.lstrip("#")
    r, g, b = int(h[0:2], 16), int(h[2:4], 16), int(h[4:6], 16)
    return f"rgba({r},{g},{b},{a})"


def binomial_band(vals, counts):
    v = np.asarray(vals, float)
    p = np.clip(v / 100.0, 0, 1)
    half = 100.0 * np.sqrt(p * (1 - p) / np.asarray(counts, float))
    return v - half, v + half


FONT = "DejaVu Sans"
fig = go.Figure()
annotations = []
layout = {}

for k, pan in enumerate(panels, start=1):
    row, col = divmod(k - 1, 3)
    suffix = "" if k == 1 else str(k)
    xa, ya = "x" + suffix, "y" + suffix
    x = np.asarray(pan["x"], float)
    for vals, colr in zip(pan["series"], colors):
        assert len(vals) == len(x)
        lo, hi = binomial_band(vals, pan["n"])
        fig.add_trace(go.Scatter(
            x=np.concatenate([x, x[::-1]]), y=np.concatenate([hi, lo[::-1]]),
            fill="toself", fillcolor=rgba(colr, 0.3), mode="lines",
            line=dict(width=0, color=rgba(colr, 0)), hoverinfo="skip",
            showlegend=False, xaxis=xa, yaxis=ya))
        line = dict(color=colr, width=2.8)
        if pan["spline"]:
            line.update(shape="spline", smoothing=0.7)
        fig.add_trace(go.Scatter(x=x, y=vals, mode="lines", line=line,
                                 showlegend=False, xaxis=xa, yaxis=ya))

    x0, x1 = col_px[col]
    y0, y1 = row_px[row]
    layout["xaxis" + suffix] = dict(
        domain=[px(x0), px(x1)], anchor=ya, range=pan["xrange"],
        tickmode="array", tickvals=pan["tickvals"], ticktext=pan["ticktext"],
        ticks="outside", ticklen=10, tickwidth=2, tickcolor="black",
        showline=True, linecolor="black", linewidth=2, mirror=True,
        showgrid=False, zeroline=False, automargin=False,
        tickfont=dict(family=FONT, size=22, color="black"))
    layout["yaxis" + suffix] = dict(
        domain=[py(y1), py(y0)], anchor=xa, range=[0, 100],
        tickmode="array", tickvals=pct_ticks, ticktext=pct_labels,
        showticklabels=(col == 0),
        ticks="outside", ticklen=12, tickwidth=2, tickcolor="black",
        showline=True, linecolor="black", linewidth=2, mirror=True,
        showgrid=True, gridcolor="#b0b0b0", gridwidth=1.6, zeroline=False,
        automargin=False, tickfont=dict(family=FONT, size=22, color="black"))
    annotations.append(dict(
        text=pan["title"], x=px((x0 + x1) / 2), y=py(y0), xref="paper", yref="paper",
        xanchor="center", yanchor="bottom", yshift=pan["title_shift"], showarrow=False,
        font=dict(family=FONT, size=25, color="black")))

shapes = []

# translucent white strip under the slanted caption
cx, cy, ang = 1095.0, 614.0, np.deg2rad(37.0)
d = np.array([np.cos(ang), -np.sin(ang)])
nrm = np.array([np.sin(ang), np.cos(ang)])
half_len, half_th = 670.0, 62.0
c = np.array([cx, cy])
corners = [c - half_len * d - half_th * nrm, c + half_len * d - half_th * nrm,
           c + half_len * d + half_th * nrm, c - half_len * d + half_th * nrm]
path = "M " + " L ".join(f"{px(p[0]):.5f},{py(p[1]):.5f}" for p in corners) + " Z"
shapes.append(dict(type="path", path=path, xref="paper", yref="paper",
                   fillcolor="rgba(255,255,255,0.6)", line=dict(width=0), layer="above"))

# legend frame with rounded corners
lx0, lx1, ly0, ly1, r = 1537.0, 1865.0, 304.0, 891.0, 6.0
rx, ry = r / W, r / H
path = (f"M {px(lx0)+rx:.5f},{py(ly0):.5f} L {px(lx1)-rx:.5f},{py(ly0):.5f} "
        f"Q {px(lx1):.5f},{py(ly0):.5f} {px(lx1):.5f},{py(ly0)-ry:.5f} "
        f"L {px(lx1):.5f},{py(ly1)+ry:.5f} Q {px(lx1):.5f},{py(ly1):.5f} {px(lx1)-rx:.5f},{py(ly1):.5f} "
        f"L {px(lx0)+rx:.5f},{py(ly1):.5f} Q {px(lx0):.5f},{py(ly1):.5f} {px(lx0):.5f},{py(ly1)+ry:.5f} "
        f"L {px(lx0):.5f},{py(ly0)-ry:.5f} Q {px(lx0):.5f},{py(ly0):.5f} {px(lx0)+rx:.5f},{py(ly0):.5f} Z")
shapes.append(dict(type="path", path=path, xref="paper", yref="paper",
                   fillcolor="rgba(255,255,255,0.9)", line=dict(color="#cccccc", width=1.5),
                   layer="above"))
for i, (name, colr) in enumerate(zip(teams, colors)):
    yc = 322.5 + 34.2 * i
    shapes.append(dict(type="line", xref="paper", yref="paper",
                       x0=px(1543), x1=px(1596), y0=py(yc), y1=py(yc),
                       line=dict(color=colr, width=6), layer="above"))
    annotations.append(dict(text=name, x=px(1610), y=py(yc), xref="paper", yref="paper",
                            xanchor="left", yanchor="middle", showarrow=False,
                            font=dict(family=FONT, size=23, color="black")))

annotations.append(dict(
    text="Optimising score == optimise physics quantities",
    x=px(cx), y=py(cy), xref="paper", yref="paper", xanchor="center", yanchor="middle",
    textangle=-37, showarrow=False,
    font=dict(family="Liberation Serif", size=67, color="#ff0000")))

fig.update_layout(
    width=W, height=H, margin=dict(l=0, r=0, t=0, b=0),
    paper_bgcolor="white", plot_bgcolor="white", showlegend=False,
    annotations=annotations, shapes=shapes, **layout)

fig.write_html("out.html")
